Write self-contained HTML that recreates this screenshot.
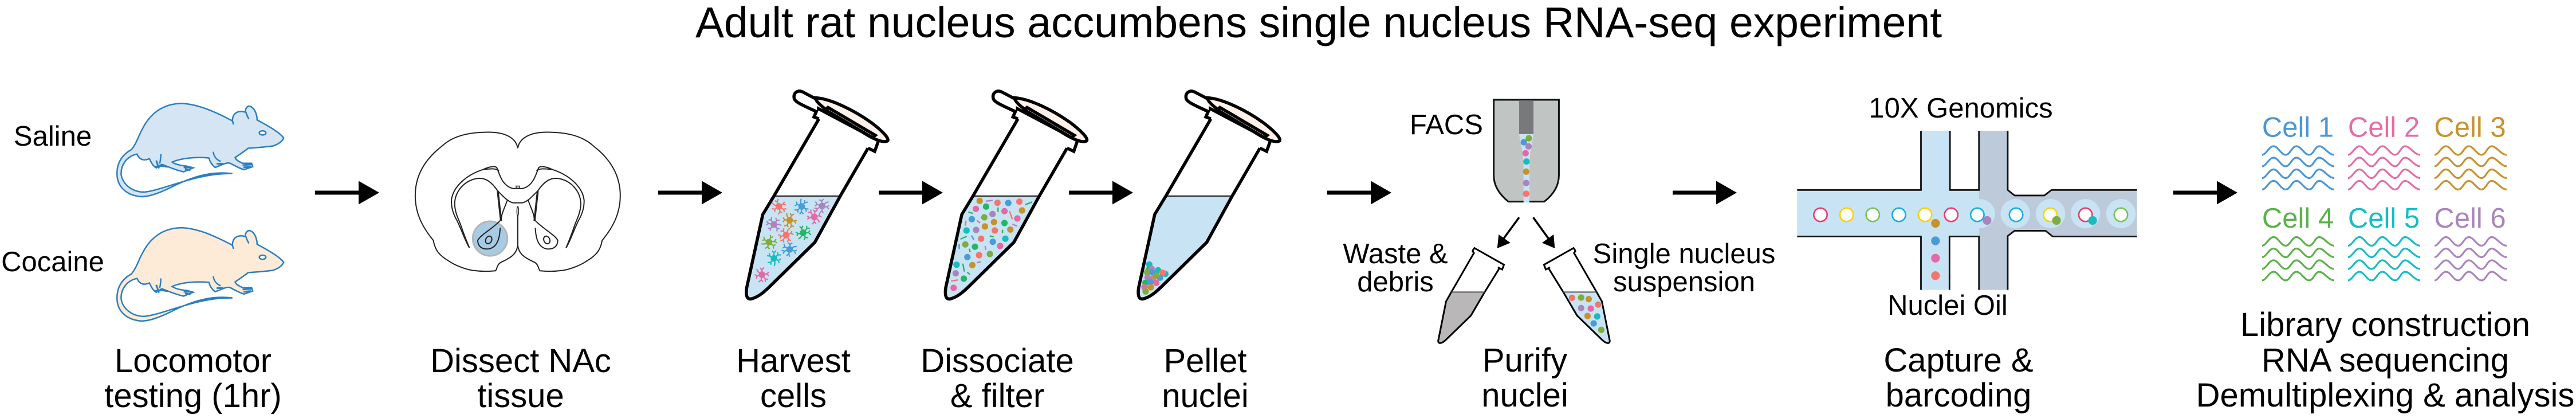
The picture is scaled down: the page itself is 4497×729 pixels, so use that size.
<!DOCTYPE html>
<html lang="en">
<head>
<meta charset="utf-8">
<title>Adult rat nucleus accumbens single nucleus RNA-seq experiment</title>
<style>
html,body{margin:0;padding:0;background:#fff;width:4497px;height:729px;overflow:hidden}
svg{display:block}
path,ellipse,line,polyline,polygon,rect,circle{vector-effect:non-scaling-stroke}
text{font-family:"Liberation Sans",Arial,sans-serif;fill:#000;text-anchor:middle}
.cap{font-size:58px}
.sm{font-size:49px}
</style>
</head>
<body>
<svg xmlns="http://www.w3.org/2000/svg" xmlns:xlink="http://www.w3.org/1999/xlink" width="4497" height="729" viewBox="0 0 4497 729">
<defs>
  <g id="arrow"><rect x="0" y="-3.5" width="78" height="7" fill="#000"/><polygon points="76,-20.5 112,0 76,20.5" fill="#000"/></g>
  <g id="rat" stroke="#2b7fc1" stroke-width="2.5">
    <path d="M480,400 C500,370 505,340 520,310 C545,250 590,200 665,200 C730,205 790,240 848,276 C848,245 865,228 895,238 C895,218 905,208 915,214 C930,222 938,250 938,272 C975,295 1020,325 1035,350 C1030,365 1015,378 995,385 C965,390 935,392 905,395 C890,410 870,425 858,435 C860,445 870,452 885,460 L918,460 L922,475 L890,488 C870,480 855,470 840,460 C825,455 815,465 785,478 C770,465 765,450 762,437 C710,432 660,438 628,455 C640,465 660,470 680,472 L705,480 L670,497 C640,490 615,475 590,465 L570,480 C555,470 550,450 545,440 C530,448 510,450 500,420 C460,430 440,470 442,510 C450,560 490,585 525,585 C590,580 720,500 848,505 C780,495 720,510 640,555 C590,585 550,605 515,605 C460,600 425,560 427,500 C428,450 450,420 480,400 Z"/>
    <path d="M897,238 C900,250 905,262 908,268 M848,276 L852,292 M587,420 C586,435 586,450 582,462 M778,410 C780,430 790,445 805,452" fill="none"/>
    <path d="M570,448 L580,482 M585,470 L612,476 M670,478 L700,478 M675,485 L695,490 M885,468 L918,465 M888,478 L915,475 M790,462 L815,462 M565,475 L600,470" fill="none" stroke-width="3"/>
    <ellipse cx="958" cy="328" rx="12" ry="9" fill="#fff"/>
  </g>
  <g id="tube">
    <path d="M198,636 L425,636 L340,875 L190,1100 C170,1130 150,1160 125,1172 C110,1180 100,1170 105,1115 L160,732 Z" fill="#c8e3f4"/>
    <line x1="198" y1="636" x2="425" y2="636" stroke="#333" stroke-width="2.5"/>
    <path d="M352,232 L198,636 L160,732 L105,1115 C100,1170 110,1180 125,1172 C150,1160 170,1130 190,1100 L338,878 L425,636 L520,385" fill="none" stroke="#000" stroke-width="5.5"/>
    <path d="M352,232 L335,222 L348,177 L556,345 L543,402 L520,385" fill="#fff" stroke="#000" stroke-width="5.5"/>
    <path d="M345,130 L295,90 C280,80 265,95 267,120 C268,140 280,150 345,195" fill="#fff" stroke="#000" stroke-width="5.5"/>
    <path d="M340,122 C390,125 470,185 530,250 C565,290 595,335 587,347 C575,358 545,345 500,300 C440,240 345,170 340,122 Z" fill="#fdf1ea" stroke="#000" stroke-width="5.5"/>
    <path d="M383,172 L545,318 L535,330 L385,195 C378,190 378,178 383,172 Z" fill="#fdf1ea" stroke="#000" stroke-width="5.5"/>
  </g>
  <path id="brain-half" d="M426,395 C420,350 380,325 320,325 C250,325 190,340 150,385 C90,440 52,510 52,600 C52,680 80,740 118,795 C125,840 140,860 175,885 C200,905 235,920 260,925 C290,930 320,930 345,927 C352,915 350,900 365,890 C390,875 425,860 426,810 L426,650 M250,828 C235,800 225,760 205,710 C190,680 183,650 184,620 C190,560 240,510 300,487 C320,475 345,470 350,480 C360,510 370,560 410,570 L426,570 M300,487 C320,485 345,480 358,492 M250,828 C240,800 230,770 220,735 C210,700 198,680 196,640 C195,580 235,530 285,525 C310,525 330,540 353,580 C370,600 390,628 410,632 L426,632 M388,620 C380,650 365,680 365,710 M365,705 C340,740 290,770 280,795 C280,820 295,835 320,832 C350,825 360,790 362,740" fill="none" stroke="#222" stroke-width="2"/>
  <path id="wave" d="M0,15 C7,15 12,0 20,0 C28,0 33,15 41,15 C49,15 52,0 60,0 C68,0 74,15 82,15 C90,15 92,0 100,0 C108,0 116,15 126,15" fill="none" stroke-width="3.2"/>
  <g id="cell-arms" fill="none" stroke-width="2.2"><path d="M0,0 L-3,-8 L-1,-13 M-3,-8 L-7,-10 M0,0 L7,-4 L12,-2.5 M7,-4 L10,-8 M0,0 L8,5 L13,4 M8,5 L10,10 M0,0 L2,9 L-1,14 M2,9 L6,11 M0,0 L-7,5 L-12,4 M-7,5 L-7,10 M0,0 L-8,-2.5 L-12,-6"/></g>
</defs>

<text x="2302" y="65" font-size="75">Adult rat nucleus accumbens single nucleus RNA-seq experiment</text>

<g transform="translate(0,100) scale(0.4785,0.4016)">
  <use xlink:href="#rat" href="#rat" fill="#d5e5f4"/>
  <use xlink:href="#rat" href="#rat" fill="#fdebd8" transform="translate(0,540)"/>
</g>
<text class="sm" x="92" y="254">Saline</text>
<text class="sm" x="92" y="473">Cocaine</text>

<g transform="translate(700,100) scale(0.4785,0.4016)">
  <ellipse cx="325" cy="787" rx="63" ry="75" fill="#a8cbe5" stroke="#b5b5b5" stroke-width="3"/>
  <use xlink:href="#brain-half" href="#brain-half"/>
  <use xlink:href="#brain-half" href="#brain-half" transform="translate(852,0) scale(-1,1)"/>
  <path d="M353,580 L365,710 M499,580 L487,710" stroke="#222" stroke-width="3.5" fill="none"/>
  <ellipse cx="320" cy="793" rx="11" ry="17" fill="none" stroke="#222" stroke-width="2" transform="rotate(15 320 793)"/>
  <ellipse cx="532" cy="793" rx="11" ry="17" fill="#fff" stroke="#222" stroke-width="2" transform="rotate(-15 532 793)"/>
  <ellipse cx="426" cy="668" rx="3" ry="20" fill="#fff" stroke="#222" stroke-width="1.5"/>
  <rect x="420" y="559" width="12" height="9" fill="none" stroke="#222" stroke-width="1.5"/>
</g>

<g>
  <use xlink:href="#arrow" href="#arrow" x="550" y="336"/>
  <use xlink:href="#arrow" href="#arrow" x="1149" y="336"/>
  <use xlink:href="#arrow" href="#arrow" x="1534" y="336"/>
  <use xlink:href="#arrow" href="#arrow" x="1866" y="336"/>
  <use xlink:href="#arrow" href="#arrow" x="2317" y="336"/>
  <use xlink:href="#arrow" href="#arrow" x="2920" y="336"/>
  <use xlink:href="#arrow" href="#arrow" x="3794" y="336"/>
</g>

<g transform="translate(1250,130) scale(0.5102,0.3333)">
  <use xlink:href="#tube" href="#tube"/>
  <use xlink:href="#tube" href="#tube" transform="translate(681,0)"/>
  <use xlink:href="#tube" href="#tube" transform="translate(1341,0)"/>
</g>
<g id="harvest-cells"></g>
<g id="debris"></g>

<g transform="translate(2300,130) scale(0.5102,0.3821)">
  <path d="M603,115 L826,115 L826,460 C826,510 805,550 776,580 L653,580 C625,550 603,510 603,460 Z" fill="#c0c4c3" stroke="#111" stroke-width="3"/>
  <rect x="690" y="118" width="49" height="154" fill="#78797b"/>
  <path d="M690,272 L739,272 C735,320 725,350 725,420 L725,585 L705,585 L705,420 C705,350 695,320 690,272 Z" fill="#c8e3f4"/>
  <path d="M690,652 L636,750 M738,652 L790,748" stroke="#000" stroke-width="3.5" fill="none"/>
  <polygon points="615,793 660,768 620,730" fill="#000"/>
  <polygon points="812,793 768,768 808,730" fill="#000"/>
  <g>
    <path d="M458,993 L572,993 L525,1100 L440,1210 C425,1230 412,1230 413,1215 L440,1035 Z" fill="#b9b7b8"/>
    <path d="M535,815 L458,993 L440,1035 L413,1215 C412,1230 425,1230 440,1210 L525,1100 L572,993 L622,885" fill="none" stroke="#000" stroke-width="3"/>
    <path d="M530,805 L537,792 L638,868 L632,890 L617,880 M530,805 L537,818" fill="#fff" stroke="#000" stroke-width="3"/>
    <line x1="458" y1="993" x2="572" y2="993" stroke="#555" stroke-width="2"/>
  </g>
  <g transform="translate(1413,0) scale(-1,1)">
    <path d="M458,993 L572,993 L525,1100 L440,1210 C425,1230 412,1230 413,1215 L440,1035 Z" fill="#c8e3f4"/>
    <path d="M535,815 L458,993 L440,1035 L413,1215 C412,1230 425,1230 440,1210 L525,1100 L572,993 L622,885" fill="none" stroke="#000" stroke-width="3"/>
    <path d="M530,805 L537,792 L638,868 L632,890 L617,880 M530,805 L537,818" fill="#fff" stroke="#000" stroke-width="3"/>
    <line x1="458" y1="993" x2="572" y2="993" stroke="#555" stroke-width="2"/>
  </g>
</g>
<text class="sm" x="2525" y="234">FACS</text>
<text class="sm" x="2436" y="459">Waste &amp;</text>
<text class="sm" x="2436" y="508">debris</text>
<text class="sm" x="2940" y="459">Single nucleus</text>
<text class="sm" x="2940" y="508">suspension</text>

<g transform="translate(3100,130) scale(0.4149,0.3821)">
  <rect x="90" y="527" width="765" height="212" fill="#c8e3f4"/>
  <rect x="611" y="257" width="122" height="726" fill="#c8e3f4"/>
  <rect x="855" y="257" width="121" height="726" fill="#bccada"/>
  <polygon points="976,527 1005,552 1130,552 1160,527 1520,527 1520,739 1165,739 1135,713 1005,713 976,737" fill="#bccada"/>
  <path d="M855,568 A68,67 0 0 1 855,702 Z" fill="#c8e3f4"/>
  <ellipse cx="1008" cy="635" rx="62" ry="67" fill="#c8e3f4"/>
  <ellipse cx="1156" cy="635" rx="62" ry="67" fill="#c8e3f4"/>
  <ellipse cx="1303" cy="635" rx="62" ry="67" fill="#c8e3f4"/>
  <ellipse cx="1452" cy="635" rx="62" ry="67" fill="#c8e3f4"/>
  <path d="M90,527 L611,527 L611,257 M733,257 L733,527 L855,527 L855,257 M976,257 L976,527 L1005,552 L1130,552 L1160,527 L1520,527 M90,739 L611,739 L611,983 M731,983 L731,739 L855,739 L855,983 M976,983 L976,737 L1005,713 L1135,713 L1165,739 L1520,739" fill="none" stroke="#111" stroke-width="2.8"/>
</g>
<g id="beads"></g>
<g id="dots"></g>
<text class="sm" x="3423" y="205">10X Genomics</text>
<text class="sm" x="3400" y="549">Nuclei Oil</text>

<g>
  <text class="sm" x="4011.5" y="238.5" style="fill:#4b97d3">Cell 1</text>
  <text class="sm" x="4161.5" y="238.5" style="fill:#e36da8">Cell 2</text>
  <text class="sm" x="4312" y="238.5" style="fill:#c9922e">Cell 3</text>
  <text class="sm" x="4011.5" y="397" style="fill:#5db14b">Cell 4</text>
  <text class="sm" x="4161.5" y="397" style="fill:#18bcc4">Cell 5</text>
  <text class="sm" x="4312" y="397" style="fill:#a985bd">Cell 6</text>
</g>
<g id="waves"></g>

<g>
  <text class="cap" x="337" y="649">Locomotor</text>
  <text class="cap" x="337" y="710">testing (1hr)</text>
  <text class="cap" x="909" y="649">Dissect NAc</text>
  <text class="cap" x="909" y="710">tissue</text>
  <text class="cap" x="1385" y="649">Harvest</text>
  <text class="cap" x="1385" y="710">cells</text>
  <text class="cap" x="1741" y="649">Dissociate</text>
  <text class="cap" x="1741" y="710">&amp; filter</text>
  <text class="cap" x="2104" y="649">Pellet</text>
  <text class="cap" x="2104" y="710">nuclei</text>
  <text class="cap" x="2662" y="648">Purify</text>
  <text class="cap" x="2662" y="709">nuclei</text>
  <text class="cap" x="3419" y="648">Capture &amp;</text>
  <text class="cap" x="3419" y="709">barcoding</text>
  <text class="cap" x="4164" y="586">Library construction</text>
  <text class="cap" x="4164" y="648">RNA sequencing</text>
  <text class="cap" x="4164" y="709">Demultiplexing &amp; analysis</text>
</g>

<script>
var NS = 'http://www.w3.org/2000/svg';
var sal = '#f4766a', blu = '#4a9bd8', pur = '#a985bd', pnk = '#e36aa6', gld = '#c8922a', grn = '#25b566', olv = '#7fad3c', tea = '#17bcc0';

var harvestCells = [[215,690,sal,0],[293,690,blu,60],[363,688,pur,120],[336,745,pnk,200],[252,762,gld,40],[198,785,pur,160],[298,828,grn,280],[240,840,sal,90],[181,877,olv,320],[252,915,blu,130],[198,962,tea,240],[157,1047,pnk,20]];
var dissociateDots = [[902,661,gld],[963,671,sal],[1000,672,blu],[1038,665,sal],[889,703,pnk],[924,691,grn],[1047,711,gld],[987,715,pnk],[946,730,pur],[875,757,blu],[918,747,olv],[1031,753,pnk],[951,772,gld],[987,777,grn],[920,795,gld],[857,816,tea],[890,813,pur],[954,816,sal],[1007,811,gld],[907,859,sal],[990,859,tea],[947,875,blu],[853,889,olv],[886,901,grn],[972,897,pnk],[860,955,blu],[900,945,sal],[937,939,olv],[823,995,tea],[877,997,gld],[820,1040,pur],[848,1068,grn],[813,1116,pnk]];
var debrisBits = [[925,662,20,-3,pur],[1060,680,20,-12,grn],[965,698,0,18,grn],[1005,718,8,36,sal],[865,720,12,6,grn],[894,765,8,10,pnk],[1016,784,12,8,pur],[855,768,-2,20,gld],[838,860,18,-12,grn],[875,845,6,16,blu],[938,845,10,3,grn],[832,890,0,20,blu],[980,815,0,12,grn],[921,900,2,14,pnk],[867,914,2,12,grn],[894,984,10,-4,pur],[845,992,4,36,grn],[861,1036,6,8,grn],[806,1080,20,-5,sal]];
var pelletDots = [[319,994,tea],[318,1020,grn],[331,1016,pur],[308,1035,olv],[365,1024,tea],[335,1035,blu],[403,1043,tea],[389,1037,sal],[375,1063,blu],[340,1065,sal],[355,1052,olv],[310,1062,pur],[299,1090,grn],[355,1090,pnk],[324,1086,blu],[294,1113,pnk],[327,1113,gld],[300,1135,olv]];
var facsDots = [[723,291,olv],[706,309,blu],[722,328,pur],[712,359,pnk],[715,397,tea],[714,443,gld],[714,495,pur],[714,544,sal]];
var suspensionDots = [[871,1019,sal],[902,1018,olv],[928,1025,gld],[960,1050,sal],[902,1066,pur],[935,1068,pnk],[924,1102,gld],[957,1104,tea],[945,1136,blu],[971,1165,olv]];
var chipDots = [[672,679,gld],[672,759,blu],[672,838,pnk],[672,918,sal],[889,666,pur],[1181,666,olv],[1333,666,tea]];
var cred = '#ee3a68', cyel = '#fdd000', cgrn = '#76c356', ccyn = '#16aee2';
var beadList = [[188,cred],[298,cyel],[408,cgrn],[518,ccyn],[628,cyel],[738,cred],[848,ccyn],[1011,ccyn],[1155,cyel],[1303,cred],[1452,cgrn]];
var waveRows = [255,275,295.5,315.5];
var waveCols = [[3949,'#4b97d3',0],[4099,'#e36da8',0],[4250,'#c9922e',0],[3949,'#5db14b',158.5],[4099,'#18bcc4',158.5],[4250,'#a985bd',158.5]];

var dotG = document.getElementById('dots');
function addDots(list, ox, oy, sx, sy, r) {
  list.forEach(function (d) {
    var c = document.createElementNS(NS, 'circle');
    c.setAttribute('cx', ox + d[0] / sx);
    c.setAttribute('cy', oy + d[1] / sy);
    c.setAttribute('r', r);
    c.setAttribute('fill', d[2]);
    
    
    dotG.appendChild(c);
  });
}
addDots(dissociateDots, 1250, 130, 1.96, 3, 5.6);
addDots(pelletDots, 1900, 130, 3, 3, 5.6);
addDots(facsDots, 2300, 130, 1.96, 2.617, 5.6);
addDots(suspensionDots, 2300, 130, 1.96, 2.617, 5.6);
addDots(chipDots, 3100, 130, 2.41, 2.617, 7.6);

var cellG = document.getElementById('harvest-cells');
harvestCells.forEach(function (d) {
  var g = document.createElementNS(NS, 'g');
  g.setAttribute('transform', 'translate(' + (1250 + d[0] / 1.96) + ',' + (130 + d[1] / 3) + ') rotate(' + d[3] + ')');
  
  
  var u = document.createElementNS(NS, 'use');
  u.setAttribute('href', '#cell-arms');
  u.setAttribute('stroke', d[2]);
  g.appendChild(u);
  var c = document.createElementNS(NS, 'circle');
  c.setAttribute('r', 5.8);
  c.setAttribute('fill', d[2]);
  g.appendChild(c);
  cellG.appendChild(g);
});

var debG = document.getElementById('debris');
debrisBits.forEach(function (d) {
  var l = document.createElementNS(NS, 'line');
  l.setAttribute('x1', 1250 + d[0] / 1.96);
  l.setAttribute('y1', 130 + d[1] / 3);
  l.setAttribute('x2', 1250 + (d[0] + d[2]) / 1.96);
  l.setAttribute('y2', 130 + (d[1] + d[3]) / 3);
  l.setAttribute('stroke', d[4]);
  l.setAttribute('stroke-width', 2.4);
  l.setAttribute('stroke-linecap', 'round');
  
  
  debG.appendChild(l);
});

var beadG = document.getElementById('beads');
beadList.forEach(function (d) {
  var c = document.createElementNS(NS, 'circle');
  c.setAttribute('cx', 3100 + d[0] / 2.41);
  c.setAttribute('cy', 130 + 640 / 2.617);
  c.setAttribute('r', 11.7);
  c.setAttribute('fill', '#fff');
  c.setAttribute('stroke', d[1]);
  c.setAttribute('stroke-width', 2.6);
  
  
  beadG.appendChild(c);
});

var waveG = document.getElementById('waves');
waveCols.forEach(function (col) {
  waveRows.forEach(function (y) {
    var u = document.createElementNS(NS, 'use');
    u.setAttribute('href', '#wave');
    u.setAttribute('x', col[0]);
    u.setAttribute('y', y + col[2]);
    u.setAttribute('stroke', col[1]);
    
    
    waveG.appendChild(u);
  });
});
</script>
</svg>
</body>
</html>
